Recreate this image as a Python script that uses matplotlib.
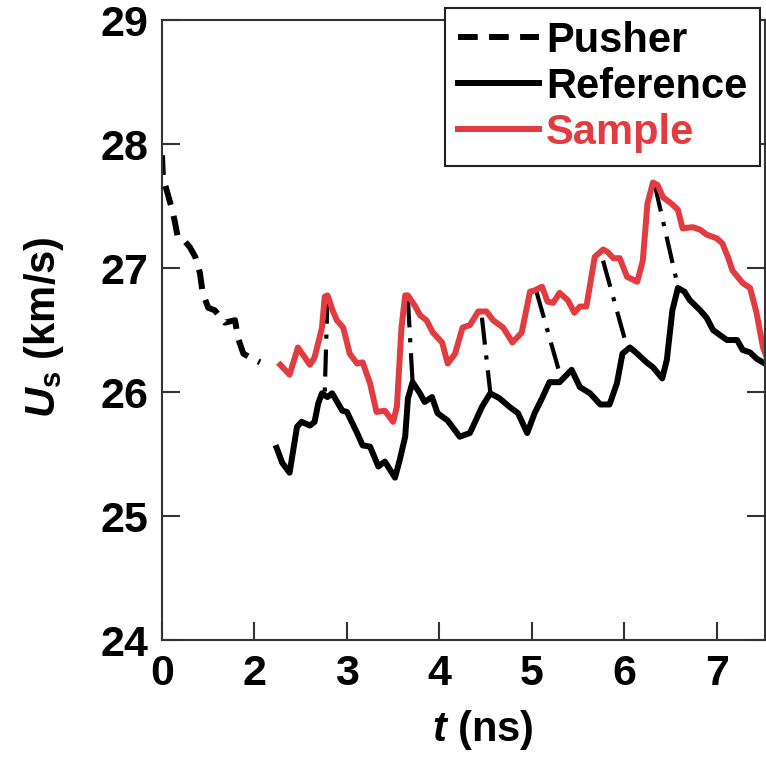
from matplotlib import pyplot as plt

# x positions are in axis units: tick 1 is labelled "0" (broken axis), 2..7 are ns
pusher_t = [1.00, 1.01, 1.05, 1.11, 1.14, 1.17, 1.23, 1.30, 1.36, 1.41, 1.44, 1.50,
            1.57, 1.68, 1.79, 1.82, 1.88, 1.95, 2.06]
pusher_us = [27.91, 27.73, 27.63, 27.47, 27.37, 27.25, 27.23, 27.17, 27.09, 26.96,
             26.80, 26.68, 26.66, 26.56, 26.58, 26.44, 26.31, 26.28, 26.24]

ref_t = [2.24, 2.30, 2.38, 2.46, 2.51, 2.60, 2.65, 2.69, 2.73, 2.79, 2.84, 2.95,
         3.00, 3.11, 3.17, 3.25, 3.34, 3.41, 3.52, 3.57, 3.63, 3.66, 3.71, 3.79,
         3.84, 3.92, 3.98, 4.09, 4.22, 4.33, 4.38, 4.46, 4.55, 4.65, 4.76, 4.85,
         4.95, 5.03, 5.11, 5.19, 5.30, 5.43, 5.52, 5.63, 5.74, 5.84, 5.92, 5.98,
         6.06, 6.14, 6.24, 6.31, 6.41, 6.46, 6.52, 6.58, 6.65, 6.71, 6.82, 6.89,
         6.96, 7.11, 7.22, 7.28, 7.36, 7.43, 7.52, 7.55]
ref_us = [25.55, 25.43, 25.35, 25.72, 25.76, 25.73, 25.76, 25.91, 25.99, 25.96,
          25.99, 25.85, 25.84, 25.67, 25.57, 25.56, 25.40, 25.44, 25.31, 25.45,
          25.64, 25.95, 26.08, 25.99, 25.92, 25.96, 25.83, 25.77, 25.64, 25.67,
          25.75, 25.88, 25.99, 25.95, 25.88, 25.83, 25.67, 25.83, 25.95, 26.08,
          26.08, 26.18, 26.04, 25.99, 25.90, 25.90, 26.07, 26.31, 26.36, 26.31,
          26.24, 26.20, 26.11, 26.26, 26.66, 26.84, 26.81, 26.74, 26.66, 26.60,
          26.50, 26.42, 26.42, 26.34, 26.32, 26.27, 26.23, 26.22]

sample_t = [2.28, 2.38, 2.47, 2.60, 2.65, 2.73, 2.76, 2.79, 2.85, 2.89, 2.96, 3.03,
            3.11, 3.17, 3.25, 3.32, 3.41, 3.50, 3.54, 3.59, 3.63, 3.66, 3.74, 3.79,
            3.86, 3.93, 4.03, 4.09, 4.17, 4.25, 4.33, 4.42, 4.51, 4.58, 4.69, 4.79,
            4.89, 4.98, 5.03, 5.11, 5.17, 5.23, 5.30, 5.39, 5.46, 5.52, 5.59, 5.68,
            5.77, 5.82, 5.88, 5.95, 6.03, 6.14, 6.20, 6.25, 6.31, 6.36, 6.42, 6.51,
            6.58, 6.63, 6.74, 6.82, 6.89, 7.00, 7.06, 7.12, 7.17, 7.28, 7.36, 7.43,
            7.50, 7.55]
sample_us = [26.22, 26.14, 26.36, 26.22, 26.28, 26.52, 26.77, 26.78, 26.65, 26.58,
             26.52, 26.31, 26.23, 26.24, 26.07, 25.84, 25.85, 25.76, 25.88, 26.52,
             26.78, 26.78, 26.69, 26.62, 26.58, 26.48, 26.40, 26.23, 26.31, 26.52,
             26.54, 26.65, 26.65, 26.58, 26.52, 26.40, 26.48, 26.81, 26.82, 26.85,
             26.73, 26.72, 26.80, 26.74, 26.64, 26.69, 26.69, 27.09, 27.15, 27.13,
             27.08, 27.08, 26.93, 26.89, 27.06, 27.52, 27.69, 27.67, 27.57, 27.52,
             27.47, 27.32, 27.33, 27.31, 27.27, 27.24, 27.20, 27.09, 26.98, 26.88,
             26.84, 26.64, 26.36, 26.26]

# dash-dot links from sample peak to reference peak
link_t0 = [2.79, 3.66, 4.46, 5.05, 5.77, 6.33]
link_us0 = [26.77, 26.74, 26.60, 26.81, 27.06, 27.67]
link_t1 = [2.76, 3.71, 4.55, 5.32, 6.03, 6.58]
link_us1 = [26.00, 26.08, 26.00, 26.10, 26.36, 26.85]

xtick_pos = [1, 2, 3, 4, 5, 6, 7]
xtick_labels = ['0', '2', '3', '4', '5', '6', '7']
ytick_pos = [24, 25, 26, 27, 28, 29]

red = '#e23b40'

plt.rcParams['font.family'] = ['Liberation Sans', 'DejaVu Sans']
plt.rcParams['font.weight'] = 'bold'
plt.rcParams['mathtext.fontset'] = 'custom'
plt.rcParams['mathtext.it'] = 'Liberation Sans:italic:bold'
plt.rcParams['mathtext.rm'] = 'Liberation Sans:bold'

fig = plt.figure(figsize=(7.66, 7.62), dpi=100)
ax = fig.add_axes([0.2115, 0.160, 0.787, 0.8136])

for i in range(len(link_t0)):
    ax.plot([link_t0[i], link_t1[i]], [link_us0[i], link_us1[i]], color='black',
            lw=3, linestyle=(0, (6.5, 2.6, 1, 2.6)), dash_capstyle='butt')

pusher_line, = ax.plot(pusher_t, pusher_us, color='black', lw=4.3,
                       linestyle=(0, (3.3, 1.9)), label='Pusher')
ref_line, = ax.plot(ref_t, ref_us, color='black', lw=4.3, label='Reference')
sample_line, = ax.plot(sample_t, sample_us, color=red, lw=4.3, label='Sample')

ax.set_xlim(1, 7.52)
ax.set_ylim(24, 29)
ax.set_xticks(xtick_pos)
ax.set_xticklabels(xtick_labels)
ax.set_yticks(ytick_pos)
ax.tick_params(direction='in', length=13, width=1.5, color='#333333',
               right=True, top=False, labelsize=31, pad=10)
for spine in ax.spines.values():
    spine.set_color('#333333')
    spine.set_linewidth(1.5)

ax.set_xlabel(r'$\mathit{t}$ (ns)', fontsize=30, fontweight='bold')
ax.xaxis.set_label_coords(0.532, -0.11)
ax.set_ylabel(r'$\mathit{U}_{\mathrm{s}}$ (km/s)', fontsize=30, fontweight='bold')
ax.yaxis.set_label_coords(-0.16, 0.505)

leg = fig.legend(handles=[pusher_line, ref_line, sample_line], loc='upper right',
                 bbox_to_anchor=(0.992, 0.9895), fancybox=False, framealpha=1,
                 edgecolor='#222222', borderpad=0.3, handlelength=1.95,
                 handletextpad=0.17, labelspacing=0.15, borderaxespad=0,
                 prop={'family': 'Liberation Sans', 'weight': 'bold', 'size': 30})
leg.get_frame().set_linewidth(1.5)
leg.get_texts()[2].set_color(red)

plt.savefig('out.png', dpi=100)
